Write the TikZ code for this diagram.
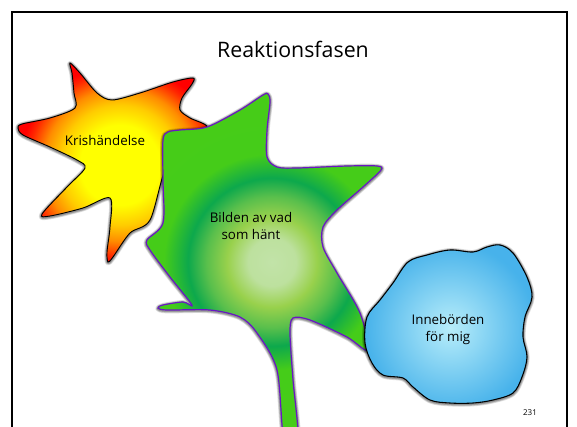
\documentclass[tikz,border=0pt]{standalone}
\usepackage{fontspec}
\setmainfont{Open Sans}

\definecolor{outlinepurple}{RGB}{106,22,196}

% radial fills for the three blobs (shaded square has half side 150pt, so 1bp = 6pt)
\pgfdeclareradialshading{crisisfill}{\pgfpoint{0bp}{0bp}}{rgb(0bp)=(1,1,0); rgb(5bp)=(1,1,0); rgb(7.5bp)=(1,0.8,0); rgb(9.5bp)=(1,0.55,0); rgb(11.5bp)=(1,0.15,0); rgb(12.5bp)=(1,0,0); rgb(50bp)=(1,0,0)}
\pgfdeclareradialshading{imagefill}{\pgfpoint{0bp}{0bp}}{rgb(0bp)=(0.76,0.89,0.66); rgb(3bp)=(0.74,0.88,0.62); rgb(5.6bp)=(0.6,0.82,0.3); rgb(8.2bp)=(0.35,0.75,0.3); rgb(10.5bp)=(0.05,0.66,0.3); rgb(13.5bp)=(0.27,0.8,0.1); rgb(50bp)=(0.3,0.8,0.06)}
\pgfdeclareradialshading{meaningfill}{\pgfpoint{0bp}{0bp}}{rgb(0bp)=(0.72,0.93,0.98); rgb(10.6bp)=(0.28,0.7,0.92); rgb(50bp)=(0.28,0.7,0.92)}

% outlines
\def\crisispath{plot[smooth cycle, tension=0.5] coordinates {(70,63) (80,73) (97,93) (112,100) (140,93) (173,82) (193,78) (192,84) (182,98) (180,110) (190,118) (207,127) (185,140) (165,170) (150,220) (130,233) (113,257) (108,262) (107,252) (110,227) (110,198) (83,208) (50,216) (42,214) (67,187) (85,168) (77,160) (50,147) (23,135) (18,128) (22,124) (50,118) (75,108) (74,93) (72,73)}}
\def\imagepath{plot[smooth cycle, tension=0.5] coordinates {(268,94) (270,102) (267,130) (267,157) (277,167) (297,168) (347,166) (377,166) (381,170) (363,187) (337,210) (323,227) (323,247) (337,273) (360,313) (368,350) (347,337) (310,320) (293,318) (290,333) (293,380) (298,440) (284,440) (277,370) (257,333) (240,317) (210,310) (167,310) (158,308) (163,305) (183,302) (192,305) (170,277) (150,250) (147,240) (163,223) (163,180) (163,140) (168,132) (180,130) (207,127) (240,110) (263,95)}}
\def\meaningpath{plot[smooth cycle, tension=0.55] coordinates {(408,262) (427,255) (450,250) (473,252) (487,247) (500,245) (513,253) (527,277) (532,297) (525,317) (523,337) (527,357) (522,377) (513,393) (493,400) (473,403) (450,403) (430,400) (413,387) (403,378) (383,375) (372,363) (365,343) (367,317) (380,300) (393,283)}}

% soft grey halo under an outline
\newcommand{\halo}[1]{%
  \foreach \w in {4,3,2.2,1.5} {\draw[black, opacity=0.13, line width=\w pt, line join=round, yshift=-0.5pt] #1;}}

\begin{document}
\begin{tikzpicture}[
    x=0.75pt, y=-0.75pt,
    frame/.style={line width=2.2pt},
    heading/.style={font=\fontsize{16}{19}\selectfont},
    blobtext/.style={font=\fontsize{10}{12.75}\selectfont, align=center},
    pagenum/.style={font=\fontsize{6}{7}\selectfont}
]
\useasboundingbox (0,0) rectangle (577,426);
\fill[white] (0,0) rectangle (577,426);

% slide frame
\draw[frame] (12,440) -- (12,12) -- (567,12) -- (567,440);

% Krishändelse star
\halo{\crisispath}
\begin{scope}
  \clip \crisispath;
  \shade[shading=crisisfill] (120,165) ++(-200,-200) rectangle ++(400,400);
\end{scope}
\draw[line width=0.7pt] \crisispath;

% green blob on top
\halo{\imagepath}
\begin{scope}
  \clip \imagepath;
  \shade[shading=imagefill] (272,262) ++(-200,-200) rectangle ++(400,400);
\end{scope}
\draw[outlinepurple, line width=0.9pt] \imagepath;

% blue blob
\halo{\meaningpath}
\begin{scope}
  \clip \meaningpath;
  \shade[shading=meaningfill] (450,328) ++(-200,-200) rectangle ++(400,400);
\end{scope}
\draw[line width=0.8pt] \meaningpath;

% texts
\node[heading] (title) at (293,49) {Reaktionsfasen};
\node[blobtext] (crisis) at (105,140) {Krishändelse};
\node[blobtext] (image) at (251,226) {Bilden av vad\\som hänt};
\node[blobtext] (meaning) at (448,330) {Innebörden\\för mig};
\node[pagenum] (slideno) at (530,413) {231};
\end{tikzpicture}
\end{document}
